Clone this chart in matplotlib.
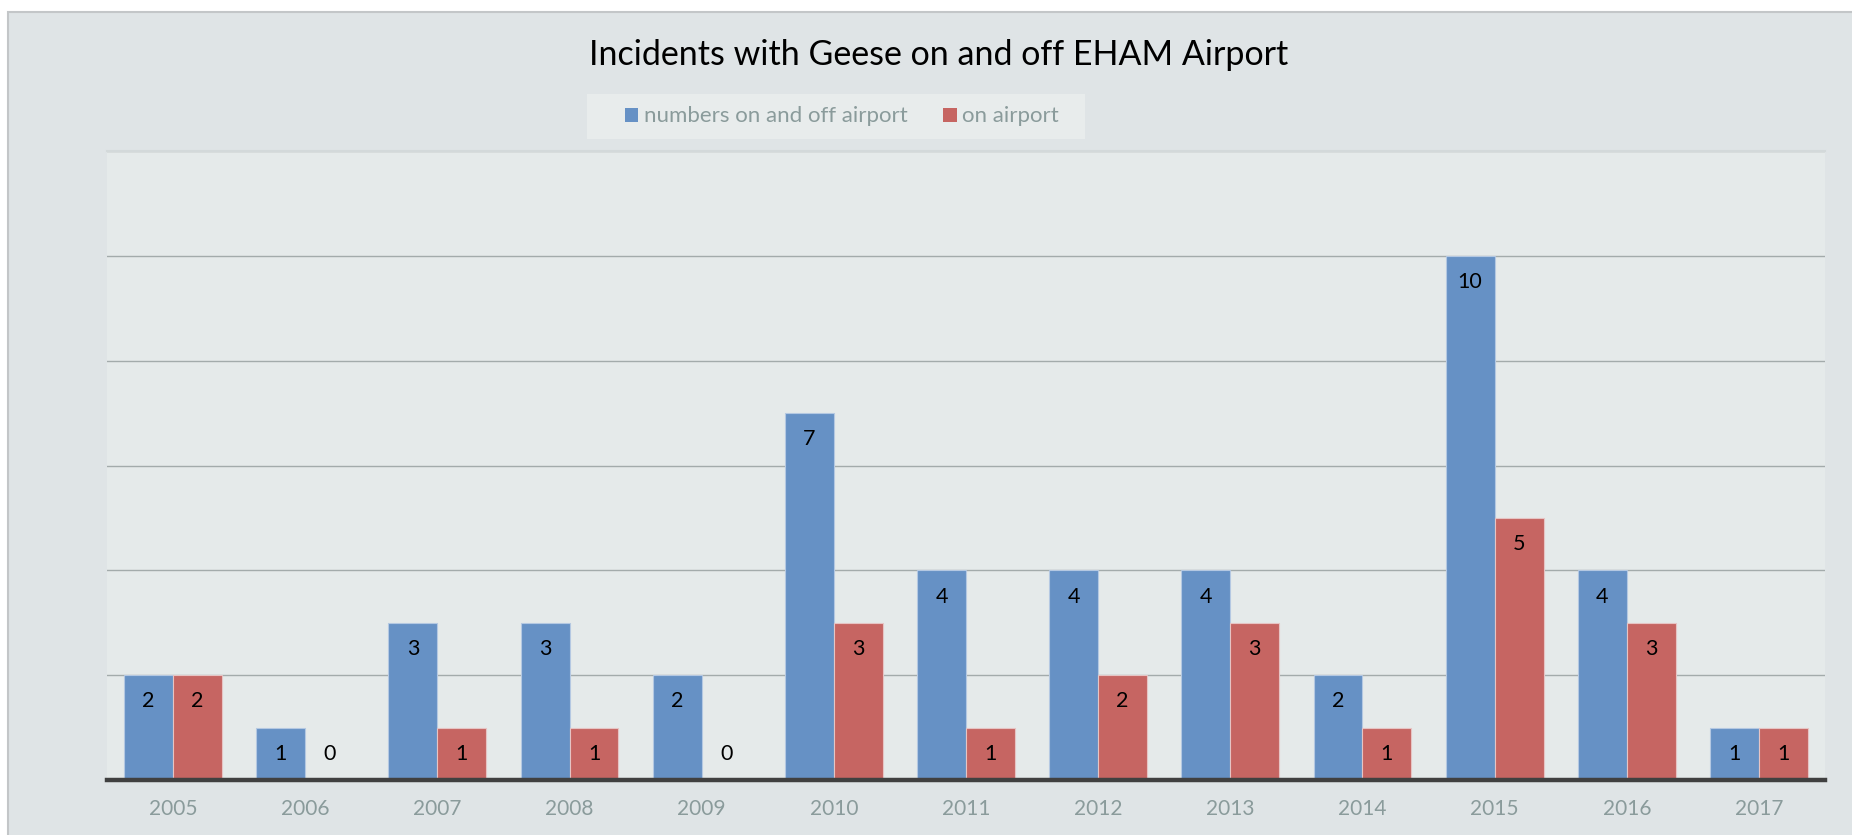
import matplotlib
matplotlib.use("Agg")
import matplotlib.pyplot as plt
import numpy as np
from matplotlib.patches import Rectangle, Patch

years = ["2005", "2006", "2007", "2008", "2009", "2010", "2011", "2012",
         "2013", "2014", "2015", "2016", "2017"]
on_and_off = [2, 1, 3, 3, 2, 7, 4, 4, 4, 2, 10, 4, 1]
on_airport = [2, 0, 1, 1, 0, 3, 1, 2, 3, 1, 5, 3, 1]
series_names = ["numbers on and off airport", "on airport"]
title = "Incidents with Geese on and off EHAM Airport"

BLUE = "#6691c5"
RED = "#c66562"
FIG_BG = "#dfe4e6"
AX_BG = "#e5eaea"
TICK_C = "#8a9b9b"

plt.rcParams['font.family'] = ['Lato', 'DejaVu Sans']

fig = plt.figure(figsize=(18.52, 8.35), dpi=100)
fig.patch.set_facecolor("white")
# outer chart frame
frame = Rectangle((8/1852, -0.01), 1.02, 1 - 12/835 + 0.01,
                  transform=fig.transFigure, facecolor=FIG_BG,
                  edgecolor="#c3c6c8", linewidth=1.5, zorder=-10)
fig.add_artist(frame)
# legend background box
legbox = Rectangle((587/1852, 1 - 139/835), (1085-587)/1852, 45/835,
                   transform=fig.transFigure, facecolor="#e8ecec",
                   edgecolor="none", zorder=-5)
fig.add_artist(legbox)

ax = fig.add_axes([107/1852, 1 - 780/835, (1825-107)/1852, (780-151)/835])
ax.set_zorder(5)
ax.set_facecolor(AX_BG)

x = np.arange(len(years))
w = 0.37
ax.bar(x - w/2, on_and_off, width=w, color=BLUE, edgecolor="#b4c8e2",
       linewidth=0.8, zorder=3)
ax.bar(x + w/2, on_airport, width=w, color=RED, edgecolor="#e6c4c4",
       linewidth=0.8, zorder=3)

for xs, vals in ((x - w/2, on_and_off), (x + w/2, on_airport)):
    for xi, v in zip(xs, vals):
        ypos = v - 0.5 if v > 0 else 0.5
        ax.text(xi, ypos, str(v), ha="center", va="center", fontsize=15.5,
                color="black", zorder=4)

ax.set_xlim(-0.5, len(years) - 0.5)
ax.set_ylim(0, 12)
ax.set_yticks(np.arange(0, 13, 2))
ax.set_yticklabels([])
ax.tick_params(axis="y", length=0)
ax.grid(axis="y", color="#a3abab", linewidth=1.0, zorder=1)
ax.set_axisbelow(True)
ax.set_xticks(x)
ax.set_xticklabels(years, fontsize=15, color=TICK_C)
ax.tick_params(axis="x", length=0, pad=14)

for s in ("left", "right"):
    ax.spines[s].set_visible(False)
ax.spines["top"].set_color("#d3d9da")
ax.spines["top"].set_linewidth(1.5)
ax.spines["bottom"].set_color("#404040")
ax.spines["bottom"].set_linewidth(3.2)
ax.spines["bottom"].set_zorder(6)

fig.text(939/1852, 1 - 55/835, title, ha="center", va="center",
         fontsize=24.5, color="black")

handles = [Patch(facecolor=BLUE, edgecolor="none"),
           Patch(facecolor=RED, edgecolor="none")]
leg = fig.legend(handles, series_names, loc="center",
                 bbox_to_anchor=(842/1852, 1 - 116.5/835), ncol=2,
                 frameon=False, fontsize=16, handlelength=0.6,
                 handleheight=0.6, handletextpad=0.25, columnspacing=1.6,
                 borderpad=0.0, borderaxespad=0.0)
for t in leg.get_texts():
    t.set_color(TICK_C)

fig.savefig("out.png", dpi=100, facecolor=fig.get_facecolor())
